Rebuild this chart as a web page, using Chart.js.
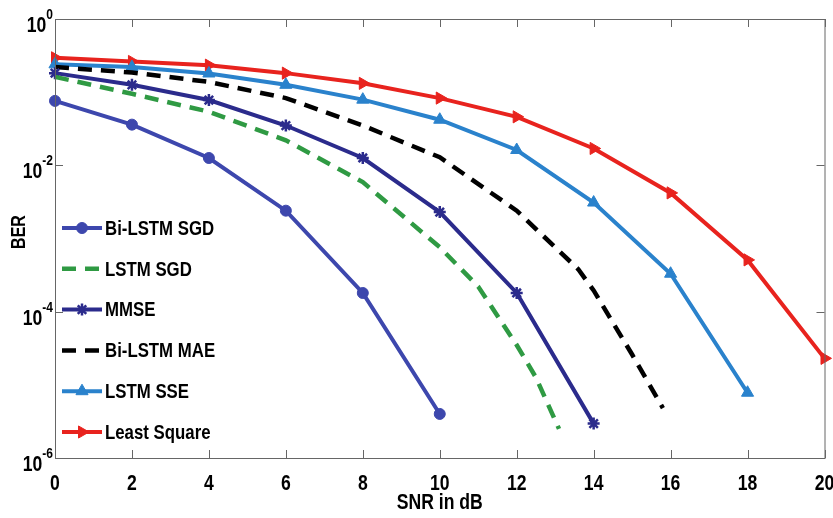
<!DOCTYPE html>
<html>
<head>
<meta charset="utf-8">
<script src="https://cdn.jsdelivr.net/npm/chart.js@4.4.1/dist/chart.umd.min.js"></script>
<style>
  body { margin: 0; background: #fff; }
  #wrap { width: 833px; height: 518px; }
</style>
</head>
<body>
<div id="wrap"><canvas id="chart" width="833" height="518"></canvas></div>
<script>
// SNR axis (dB) and BER values
const snr = [0, 2, 4, 6, 8, 10, 12, 14, 16, 18, 20];
const yTicks = [1, 1e-2, 1e-4, 1e-6];
const yTickExp = ['0', '-2', '-4', '-6'];

const biLstmSgd = [0.076, 0.036, 0.0126, 0.0024, 1.8e-4, 4.0e-6];
const lstmSgdX = [0, 2, 4, 6, 8, 10, 11, 12, 12.5, 13.1];
const lstmSgd = [0.162, 0.095, 0.054, 0.022, 5.9e-3, 7.6e-4, 2.2e-4, 3.5e-5, 1.26e-5, 2.5e-6];
const mmse = [0.182, 0.126, 0.078, 0.035, 0.0126, 2.3e-3, 1.8e-4, 2.95e-6];
const biLstmMaeX = [0, 2, 4, 6, 8, 10, 12, 13.6, 14, 14.5, 15, 15.8];
const biLstmMae = [0.22, 0.186, 0.138, 0.083, 0.035, 0.0129, 2.4e-3, 3.8e-4, 1.95e-4, 7.1e-5, 2.6e-5, 4.8e-6];
const lstmSse = [0.24, 0.22, 0.18, 0.126, 0.079, 0.042, 0.0162, 3.1e-3, 3.3e-4, 7.8e-6];
const leastSquare = [0.295, 0.263, 0.234, 0.182, 0.132, 0.083, 0.046, 0.017, 4.2e-3, 5.1e-4, 2.3e-5];

const FONT = '"Liberation Sans", Arial, sans-serif';
const SQUEEZE = 0.8; // fake Arial Narrow

function pts(xs, ys) {
  return ys.map((v, i) => ({x: xs[i], y: v}));
}

// bold text squeezed horizontally
function narrow(ctx, text, x, y, size, align, rot) {
  ctx.save();
  ctx.translate(x, y);
  if (rot) ctx.rotate(rot);
  ctx.scale(SQUEEZE, 1);
  ctx.font = 'bold ' + size + 'px ' + FONT;
  ctx.textAlign = align;
  ctx.textBaseline = 'middle';
  ctx.fillStyle = '#000';
  ctx.fillText(text, 0, 0);
  ctx.restore();
}

function textW(ctx, text, size) {
  ctx.save();
  ctx.font = 'bold ' + size + 'px ' + FONT;
  const w = ctx.measureText(text).width * SQUEEZE;
  ctx.restore();
  return w;
}

const plotBox = {
  id: 'plotBox',
  afterDraw(chart) {
    const {ctx, chartArea: a, scales: {x, y}} = chart;
    ctx.save();
    // frame + inward ticks
    ctx.strokeStyle = '#666';
    ctx.lineWidth = 1;
    ctx.strokeRect(a.left + 0.5, a.top + 0.5, a.right - a.left, a.bottom - a.top);
    ctx.beginPath();
    snr.forEach(v => {
      const px = Math.round(x.getPixelForValue(v)) + 0.5;
      ctx.moveTo(px, a.bottom); ctx.lineTo(px, a.bottom - 8);
      ctx.moveTo(px, a.top); ctx.lineTo(px, a.top + 8);
    });
    yTicks.forEach(v => {
      const py = Math.round(y.getPixelForValue(v)) + 0.5;
      ctx.moveTo(a.left, py); ctx.lineTo(a.left + 8, py);
      ctx.moveTo(a.right, py); ctx.lineTo(a.right - 8, py);
    });
    ctx.stroke();

    // x tick labels and title
    snr.forEach(v => narrow(ctx, String(v), x.getPixelForValue(v), a.bottom + 26, 22, 'center'));
    narrow(ctx, 'SNR in dB', (a.left + a.right) / 2, 503, 22, 'center');
    narrow(ctx, 'BER', 19, 232, 20, 'center', -Math.PI / 2);

    // y tick labels 10^n
    yTicks.forEach((v, i) => {
      const py = y.getPixelForValue(v);
      const ew = textW(ctx, yTickExp[i], 15);
      narrow(ctx, yTickExp[i], a.left - 2, py - 4, 15, 'right');
      narrow(ctx, '10', a.left - 2 - ew, py + 7, 22, 'right');
    });

    // legend in the lower left of the plot
    const lx = 62, ly = 228, gap = 40.8;
    chart.data.datasets.forEach((ds, i) => {
      const cy = ly + i * gap;
      ctx.strokeStyle = ds.borderColor;
      ctx.lineWidth = ds.borderWidth;
      ctx.setLineDash(ds.borderDash || []);
      ctx.beginPath();
      ctx.moveTo(lx, cy); ctx.lineTo(lx + 40, cy);
      ctx.stroke();
      ctx.setLineDash([]);
      if (ds.pointRadius > 0) {
        ctx.fillStyle = ds.pointBackgroundColor;
        ctx.lineWidth = ds.pointBorderWidth;
        Chart.helpers.drawPoint(ctx, {
          pointStyle: ds.pointStyle,
          rotation: ds.pointRotation || 0,
          radius: ds.pointRadius,
          borderWidth: ds.pointBorderWidth
        }, lx + 20, cy);
      }
      narrow(ctx, ds.label, lx + 43, cy + 1, 21, 'left');
    });
    ctx.restore();
  }
};

function line(label, data, color, extra) {
  return Object.assign({
    label: label,
    data: data,
    borderColor: color,
    backgroundColor: color,
    pointBackgroundColor: color,
    pointBorderColor: color,
    borderWidth: 4,
    pointBorderWidth: 1,
    tension: 0,
    clip: false
  }, extra);
}

const config = {
  type: 'line',
  data: {
    datasets: [
      line('Bi-LSTM SGD', pts(snr, biLstmSgd), '#3d47ad', {pointStyle: 'circle', pointRadius: 5.5}),
      line('LSTM SGD', pts(lstmSgdX, lstmSgd), '#2f9a43', {borderDash: [14, 9], borderWidth: 4.5, pointRadius: 0}),
      line('MMSE', pts(snr, mmse), '#2b2b8c', {pointStyle: 'star', pointRadius: 6, pointBorderWidth: 2.5}),
      line('Bi-LSTM MAE', pts(biLstmMaeX, biLstmMae), '#000000', {borderDash: [14, 9], borderWidth: 4.5, pointRadius: 0}),
      line('LSTM SSE', pts(snr, lstmSse), '#2a82cc', {pointStyle: 'triangle', pointRadius: 7}),
      line('Least Square', pts(snr, leastSquare), '#e8231e', {pointStyle: 'triangle', pointRotation: 90, pointRadius: 7})
    ]
  },
  options: {
    responsive: false,
    animation: false,
    layout: { padding: { top: 19, right: 6, left: 0, bottom: 0 } },
    plugins: {
      legend: { display: false },
      tooltip: { enabled: false }
    },
    elements: { point: { hoverRadius: 0 } },
    scales: {
      x: {
        type: 'linear',
        min: 0,
        max: 20,
        grid: { display: false, drawTicks: false },
        border: { display: false },
        ticks: { display: false, stepSize: 2 },
        afterFit(scale) {
          scale.height = 60;
          scale.paddingLeft = 0;
          scale.paddingRight = 0;
        }
      },
      y: {
        type: 'logarithmic',
        min: 1e-6,
        max: 1,
        grid: { display: false, drawTicks: false },
        border: { display: false },
        ticks: { display: false },
        afterBuildTicks(scale) { scale.ticks = yTicks.map(v => ({value: v})); },
        afterFit(scale) {
          scale.width = 55;
          scale.paddingTop = 0;
          scale.paddingBottom = 0;
        }
      }
    }
  },
  plugins: [plotBox]
};

const chart = new Chart(document.getElementById('chart'), config);
</script>
</body>
</html>
